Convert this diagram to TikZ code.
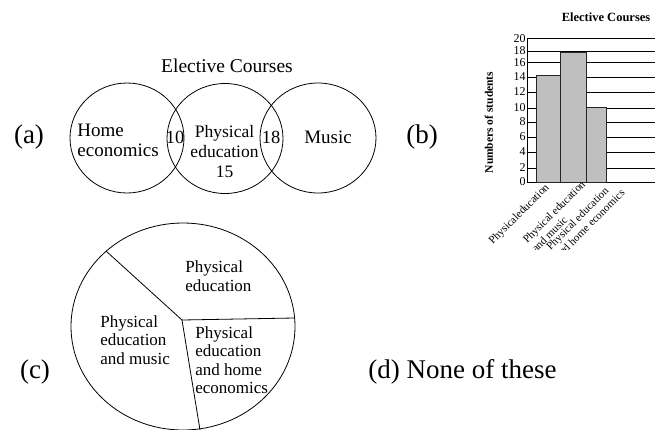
\documentclass[tikz,border=0pt]{standalone}
\usepackage{fontspec}
\setmainfont{Liberation Serif}
\tikzset{
  optlabel/.style={font=\fontsize{27}{30}\selectfont, inner sep=0pt},
  venntext/.style={font=\fontsize{19}{20}\selectfont, inner sep=0pt, align=left},
  midtext/.style={font=\fontsize{17.5}{19.7}\selectfont, inner sep=0pt, align=center},
  numtext/.style={font=\fontsize{18.5}{20}\selectfont, inner sep=0pt},
  pietext/.style={font=\fontsize{17}{18.5}\selectfont, inner sep=0pt, align=left, anchor=north west},
  ticklabel/.style={font=\fontsize{12}{14}\selectfont, anchor=east, inner sep=1pt},
  barlabel/.style={font=\fontsize{11}{12.7}\selectfont, inner sep=0pt, align=left, anchor=north west, rotate=45},
  bar/.style={draw=black!85, fill=black!25, line width=0.9pt},
}
\begin{document}
\begin{tikzpicture}[x=1pt, y=-1pt, line width=0.8pt]
\useasboundingbox (0,0) rectangle (655,429);

% (a) venn diagram
\node[optlabel] (a) at (29,137) {(a)};
\node[font=\fontsize{19.5}{22}\selectfont] (venntitle) at (227,66) {Elective Courses};
\draw (127,138) ellipse [x radius=57, y radius=55];
\draw (225,138.5) ellipse [x radius=58, y radius=55];
\draw (318,138) ellipse [x radius=58, y radius=55];
\node[venntext, anchor=north west] (home) at (77,124) {Home\\economics};
\node[venntext] (music) at (328,137) {Music};
\node[numtext] (ten) at (175,137) {10};
\node[numtext] (eighteen) at (271,137) {18};
\node[midtext, anchor=north] (pe) at (224.5,125.3) {Physical\\education\\15};

% (b) bar graph
\node[optlabel] (b) at (422,137) {(b)};
\node[font=\bfseries\fontsize{12.5}{14}\selectfont] (bartitle) at (606,17) {Elective Courses};
\foreach \v/\y in {0/182,2/168,4/152,6/137,8/122,10/108,12/92,14/77,16/62.3,18/51,20/38.7} {
  \draw[line width=0.7pt] (527,\y) -- (655,\y);
  \node[ticklabel] (tick\v) at (527,\y) {\v};
}
\draw (527,38.7) -- (527,182);
\draw[bar] (536.7,182) rectangle (560.7,75);
\draw[bar] (560.7,182) rectangle (586,52);
\draw[bar] (586.7,182) rectangle (606,107);
\node[font=\bfseries\fontsize{11.5}{13}\selectfont, rotate=90] (ylabel) at (489,122.5) {Numbers of students};
\begin{scope}
  \clip (440,0) rectangle (655,249);
  \node[barlabel] (barpe) at (487,239.4) {Physicaleducation};
  \node[barlabel] (barmusic) at (521.3,238.3) {Physical education\\and music};
  \node[barlabel] (barhome) at (544.7,245) {Physical education\\and home economics};
\end{scope}

% (c) pie chart
\node[optlabel] (c) at (35,372) {(c)};
\coordinate (piec) at (182,320);
\coordinate (pietop) at (106,251);
\coordinate (pieright) at (294,318);
\coordinate (piebottom) at (200,430);
\draw (183,326.5) ellipse [x radius=112, y radius=103.5];
\draw (piec) -- (pietop);
\draw (piec) -- (pieright);
\draw (piec) -- (piebottom);
\node[pietext] (piepe) at (185,260.5) {Physical\\education};
\node[pietext] (piemusic) at (100,315) {Physical\\education\\and music};
\node[pietext] (piehome) at (195,326) {Physical\\education\\and home\\economics};

% (d)
\node[optlabel, anchor=west] (d) at (368,372) {(d) None of these};
\end{tikzpicture}
\end{document}
